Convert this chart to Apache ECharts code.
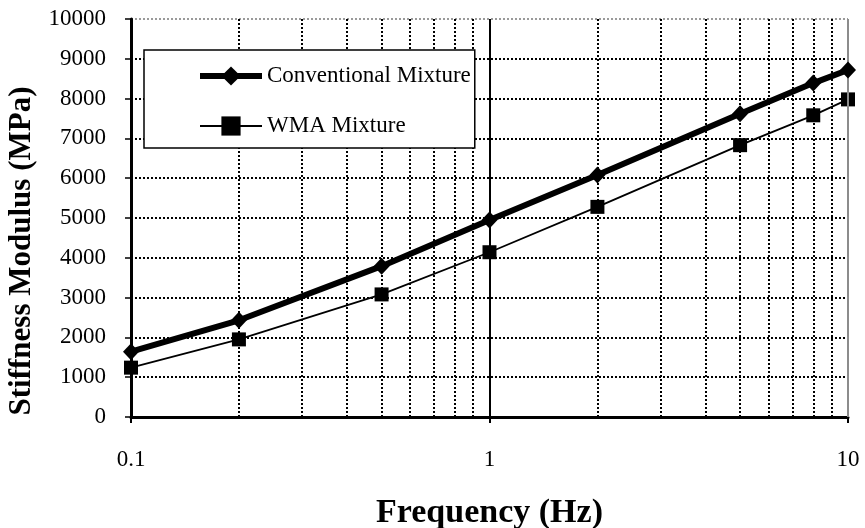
<!DOCTYPE html>
<html>
<head>
<meta charset="utf-8">
<script src="https://cdn.jsdelivr.net/npm/echarts@6/dist/echarts.min.js"></script>
<style>html,body{margin:0;padding:0;background:#fff;}#c{width:865px;height:528px;}</style>
</head>
<body>
<div id="c"></div>
<script>
var frequency = [0.1, 0.2, 0.5, 1, 2, 5, 8, 10];
var conventional = [1640, 2430, 3790, 4950, 6080, 7620, 8390, 8720];
var wma = [1240, 1950, 3080, 4140, 5280, 6830, 7580, 7980];
var seriesNames = ['Conventional Mixture', 'WMA Mixture'];
var minorGridX = [0.2, 0.3, 0.4, 0.5, 0.6, 0.7, 0.8, 0.9, 2, 3, 4, 5, 6, 7, 8, 9];
var xTitle = 'Frequency (Hz)';
var yTitle = 'Stiffness Modulus (MPa)';

var FONT = '"Liberation Serif", "Times New Roman", serif';
var chart = echarts.init(document.getElementById('c'), null, {renderer: 'canvas'});

function pairs(xs, ys) { return xs.map(function (x, i) { return [x, ys[i]]; }); }

var dotted = {color: '#000', width: 2, type: [2, 2]};
var minorLines = minorGridX.map(function (v) { return {xAxis: v, lineStyle: dotted}; });
minorLines.push({xAxis: 1, lineStyle: {color: '#000', width: 2, type: 'solid'}});
minorLines.push({xAxis: 10, lineStyle: {color: '#8c8c8c', width: 2, type: 'solid'}});

var splitColors = [];
for (var i = 0; i < 10; i++) splitColors.push('#000');
splitColors.push('#9a9a9a');

chart.setOption({
  animation: false,
  backgroundColor: '#fff',
  grid: {left: 131, right: 17, top: 19, bottom: 111, containLabel: false, outerBoundsMode: 'none'},
  xAxis: {
    type: 'log', logBase: 10, min: 0.1, max: 10,
    name: xTitle, nameLocation: 'middle', nameGap: 79,
    nameTextStyle: {fontFamily: FONT, fontWeight: 'bold', fontSize: 34, color: '#000'},
    axisLine: {show: true, onZero: false, lineStyle: {color: '#000', width: 3}},
    axisTick: {show: true, length: 6, lineStyle: {color: '#000', width: 2}},
    axisLabel: {fontFamily: FONT, fontSize: 23, color: '#000', margin: 31,
      formatter: function (v) { return String(Math.round(v * 10) / 10); }},
    splitLine: {show: false},
    minorTick: {show: false}
  },
  yAxis: {
    type: 'value', min: 0, max: 10000, interval: 1000,
    name: yTitle, nameLocation: 'middle', nameGap: 89,
    nameTextStyle: {fontFamily: FONT, fontWeight: 'bold', fontSize: 31, color: '#000', padding: [0, 66, 0, 0]},
    axisLine: {show: true, lineStyle: {color: '#000', width: 3}},
    axisTick: {show: true, length: 6, lineStyle: {color: '#000', width: 1.5}},
    axisLabel: {fontFamily: FONT, fontSize: 23, color: '#000', margin: 25,
      formatter: function (v) { return String(v); }},
    splitLine: {show: true, lineStyle: {color: splitColors, width: 2, type: [2, 2]}}
  },
  legend: {
    show: true, orient: 'vertical', left: 144, top: 50,
    data: [
      {name: seriesNames[0], lineStyle: {width: 6}},
      {name: seriesNames[1], lineStyle: {width: 2}}
    ],
    backgroundColor: '#fff', borderColor: '#000', borderWidth: 1.5, borderRadius: 0,
    padding: [14, 4, 10, 53],
    itemWidth: 62, itemHeight: 24, itemGap: 26,
    textStyle: {fontFamily: FONT, fontSize: 23, color: '#000', lineHeight: 24, padding: [0, 0, 0, 0]},
    selectedMode: false, z: 10
  },
  series: [
    {
      name: 'grid', type: 'line', data: [], silent: true, z: 1,
      markLine: {silent: true, symbol: ['none', 'none'], label: {show: false}, animation: false,
        data: minorLines}
    },
    {
      name: seriesNames[0], type: 'line', data: pairs(frequency, conventional), z: 5,
      symbol: 'diamond', symbolSize: [16, 17],
      lineStyle: {color: '#000', width: 6},
      itemStyle: {color: '#000'}
    },
    {
      name: seriesNames[1], type: 'line', data: pairs(frequency, wma), z: 4,
      symbol: 'rect', symbolSize: 14,
      lineStyle: {color: '#000', width: 1.8},
      itemStyle: {color: '#000'}
    }
  ]
});
</script>
</body>
</html>
